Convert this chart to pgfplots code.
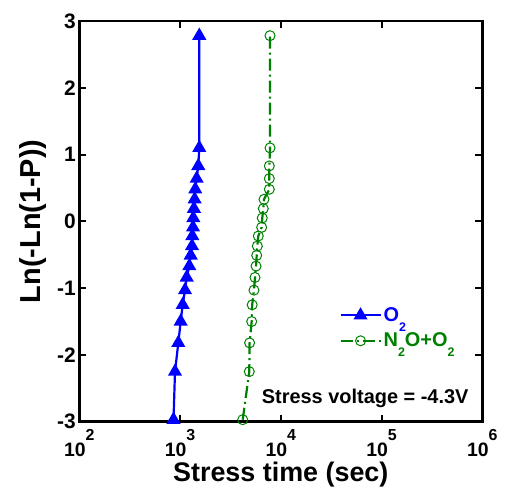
\documentclass[border=0pt]{standalone}
\usepackage{fontspec}
\setmainfont{Liberation Sans}
\usepackage{pgfplots}
\usepackage{pgfplotstable}
\pgfplotsset{compat=1.18}
\definecolor{mblue}{rgb}{0,0,1}
\definecolor{mgreen}{rgb}{0,0.5,0}
\newcommand{\tl}[1]{10\raisebox{0.82em}{\fontsize{16}{16}\selectfont #1}}
\newcommand{\sub}[1]{\raisebox{-10bp}{\fontsize{12.5}{12.5}\selectfont #1}}

\pgfplotstableread{
x y
861 -2.97
891 -2.25
961 -1.82
1014 -1.50
1062 -1.25
1120 -1.03
1164 -0.84
1236 -0.67
1276 -0.51
1315 -0.37
1324 -0.22
1345 -0.09
1354 0.05
1374 0.19
1396 0.33
1416 0.48
1462 0.64
1517 0.83
1552 1.10
1552 2.78
}\oxy

\pgfplotstableread{
x y
4188 -2.97
4865 -2.25
4900 -1.82
5140 -1.50
5200 -1.25
5418 -1.03
5545 -0.84
5676 -0.67
5765 -0.51
5845 -0.37
5978 -0.22
6457 -0.09
6546 0.05
6700 0.19
6808 0.33
7691 0.48
7691 0.64
7691 0.83
7816 1.10
7816 2.78
}\nox

\begin{document}
\begin{tikzpicture}
\path[use as bounding box] (-79.3bp,-69.3bp) rectangle (426.7bp,421.7bp);
\begin{axis}[
  scale only axis, width=403bp, height=400.7bp,
  xmode=log, xmin=100, xmax=1e6, ymin=-3, ymax=3,
  xtick={100,1000,10000,100000,1000000},
  xticklabels={\tl{2},\tl{3},\tl{4},\tl{5},\tl{6}},
  ytick={-3,-2,-1,0,1,2,3},
  yticklabels={-3,-2,-1,0,1,2,3},
  xminorticks=false, yminorticks=false,
  tick align=inside, major tick length=7bp,
  axis line style={line width=2.5bp},
  major tick style={line width=2bp, black},
  tick label style={font=\fontsize{19.5}{19.5}\selectfont\bfseries},
  xticklabel style={yshift=-4bp},
  yticklabel style={font=\fontsize{21}{21}\selectfont\bfseries},
  xlabel={Stress time (sec)}, ylabel={Ln(-Ln(1-P))},
  xlabel style={font=\fontsize{27}{27}\selectfont\bfseries},
  ylabel style={font=\fontsize{29}{29}\selectfont\bfseries},
  xlabel shift=-1bp, ylabel shift=4bp,
  legend style={draw=none, fill=none, at={(axis description cs:0.645,0.29)}, anchor=north west,
     font=\fontsize{20}{20}\selectfont\bfseries, row sep=6bp, inner sep=0pt},
  legend cell align=left,
  legend image code/.code={\draw[mark repeat=2, mark phase=2, #1] plot coordinates {(0bp,0bp) (20bp,0bp) (40bp,0bp)};},
]
\addplot[mblue, line width=2.2bp, mark=triangle*, mark size=6bp, mark options={solid}] table {\oxy};
\addlegendentry{\textcolor{mblue}{O\sub{2}}}
\addplot[mgreen, line width=2.2bp, dash pattern=on 12bp off 4bp on 2bp off 4bp, mark=o, mark size=5bp, mark options={solid, line width=1bp}] table {\nox};
\addlegendentry{\textcolor{mgreen}{N\sub{2}O+O\sub{2}}}
\node[anchor=base west, inner sep=0pt, font=\fontsize{20}{20}\selectfont\bfseries] at (axis description cs:0.4526,0.046) {Stress voltage = -4.3V};
\end{axis}
\end{tikzpicture}
\end{document}
